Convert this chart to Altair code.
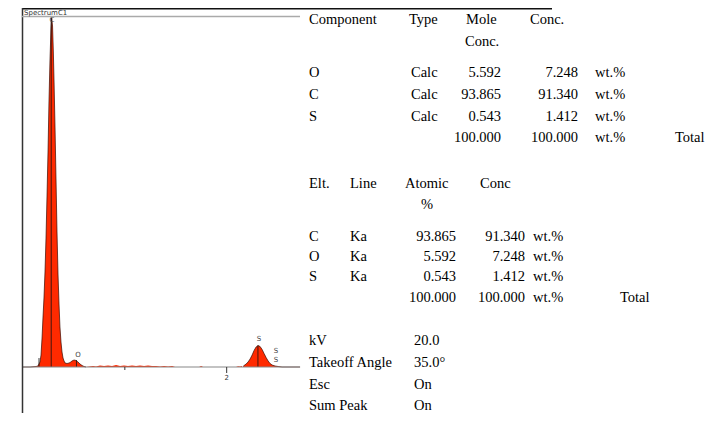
import altair as alt
import pandas as pd

# ---------------- spectrum values (keV, counts) ----------------
co_energy = [0.000, 0.069, 0.128, 0.147, 0.167, 0.177, 0.187, 0.196, 0.206, 0.216, 0.226,
             0.236, 0.246, 0.255, 0.265, 0.275, 0.282, 0.290, 0.298, 0.305, 0.314, 0.324,
             0.334, 0.344, 0.354, 0.363, 0.373, 0.383, 0.393, 0.403, 0.413, 0.432, 0.452,
             0.462, 0.481, 0.501, 0.521, 0.540, 0.560, 0.580, 0.599, 0.619]
co_counts = [0, 0, 5, 10, 50, 120, 290, 490, 690, 950, 1290,
             1720, 2170, 2650, 3070, 3390, 3490, 3410, 3150, 2850, 2420, 1890,
             1350, 920, 620, 400, 250, 150, 90, 60, 40, 35, 40,
             45, 60, 70, 65, 50, 30, 15, 5, 0]
noise_energy = [0.619, 0.688, 0.717, 0.756, 0.796, 0.835, 0.874, 0.914, 0.953, 0.992, 1.031,
                1.071, 1.110, 1.149, 1.189, 1.228, 1.267, 1.306, 1.346, 1.385, 1.424, 1.464,
                1.493, 1.729, 1.749, 1.768, 2.092, 2.112, 2.132, 2.151]
noise_counts = [0, 10, 5, 15, 10, 15, 10, 20, 10, 15, 10,
                15, 10, 15, 10, 15, 10, 10, 5, 10, 5, 10,
                0, 0, 10, 0, 0, 8, 5, 10]
s_energy = [2.161, 2.171, 2.191, 2.210, 2.230, 2.250, 2.269, 2.289, 2.308, 2.328, 2.348,
            2.367, 2.387, 2.407, 2.426, 2.446, 2.475, 2.505, 2.544, 2.721]
s_counts = [5, 15, 30, 50, 80, 120, 165, 200, 215, 205, 175,
            135, 95, 60, 35, 20, 10, 5, 0, 0]

# element line markers
marker_energy = [0.157, 0.277, 0.525, 2.307]
marker_top = [90, 3490, 70, 215]
# peak labels
label_text = ["C", "O", "S", "S", "S"]
label_energy = [0.285, 0.540, 2.318, 2.485, 2.485]
label_counts = [3470, 120, 280, 160, 70]
# axis ticks
tick_energy = [1, 2]
tick_len = [-30, -60]
tick_label = ["", "2"]

# ---------------- table values ----------------
comp_headers = ["Component", "Type", "Mole", "Conc."]
components = ["O", "C", "S"]
comp_type = ["Calc", "Calc", "Calc"]
comp_mole = [5.592, 93.865, 0.543]
comp_conc = [7.248, 91.340, 1.412]
comp_total = [100.000, 100.000]

elt_headers = ["Elt.", "Line", "Atomic", "Conc"]
elements = ["C", "O", "S"]
elt_line = ["Ka", "Ka", "Ka"]
elt_atomic = [93.865, 5.592, 0.543]
elt_conc = [91.340, 7.248, 1.412]
elt_total = [100.000, 100.000]

setting_names = ["kV", "Takeoff Angle", "Esc", "Sum Peak"]
setting_values = ["20.0", "35.0°", "On", "On"]

# ---------------- layout ----------------
W, H = 706, 405
OFF = 8  # page margin
FONT = "Liberation Serif"
FS = 14.5
RED = "#ff2a00"

xs = alt.Scale(domain=[0, 2.72], range=[15, 292], nice=False, zero=False)
ys = alt.Scale(domain=[0, 3500], range=[359, 9], nice=False, zero=False)

X = alt.X("E:Q", scale=xs, axis=None)
Y = alt.Y("counts:Q", scale=ys, axis=None, stack=None)


def part_df(e, c):
    return pd.DataFrame({"E": e, "counts": c, "zero": [0] * len(e)})


def area_layer(df):
    return alt.Chart(df).mark_area(fill=RED, fillOpacity=1, strokeWidth=0).encode(
        x=X, y=Y, y2=alt.Y2("zero:Q"))


def outline_layer(df):
    return alt.Chart(df).mark_line(color="#3a0a00", strokeWidth=0.7).encode(x=X, y=Y)


co_df = part_df(co_energy, co_counts)
noise_df = part_df(noise_energy, noise_counts)
s_df = part_df(s_energy, s_counts)

markers = pd.DataFrame({"E": marker_energy, "top": marker_top, "zero": [0] * 4})
marker_rules = alt.Chart(markers).mark_rule(color="#111", strokeWidth=0.8).encode(
    x=X, y=alt.Y("zero:Q", scale=ys, axis=None), y2="top:Q")

labels = pd.DataFrame({"E": label_energy, "counts": label_counts, "t": label_text})
label_marks = alt.Chart(labels).mark_text(font="DejaVu Sans", fontSize=7, color="#444",
                                          baseline="middle", align="center").encode(
    x=X, y=alt.Y("counts:Q", scale=ys, axis=None), text="t:N")

ticks = pd.DataFrame({"E": tick_energy, "zero": [0, 0], "len": tick_len, "t": tick_label,
                      "lab_y": [-110, -110]})
tick_rules = alt.Chart(ticks).mark_rule(color="#333", strokeWidth=1).encode(
    x=X, y=alt.Y("zero:Q", scale=ys, axis=None), y2="len:Q")
tick_text = alt.Chart(ticks).mark_text(font="DejaVu Sans", fontSize=7, color="#333",
                                       baseline="middle").encode(
    x=X, y=alt.Y("lab_y:Q", scale=ys, axis=None), text="t:N")

base = pd.DataFrame({"E": [-0.01], "E2": [2.72], "zero": [0]})
baseline = alt.Chart(base).mark_rule(color="#888", strokeWidth=1.2).encode(
    x=X, x2="E2:Q", y=alt.Y("zero:Q", scale=ys, axis=None))

# frame (pixel layout)
frame = pd.DataFrame({
    "x": [14, 14.5, 14], "x2": [544, 14.5, 292],
    "y": [0.75, 0, 8.5], "y2": [0.75, H, 8.5],
    "c": ["#111", "#333", "#aaa"],
})
frame_rules = alt.Chart(frame).mark_rule(strokeWidth=1.5).encode(
    x=alt.X("x:Q", scale=None, axis=None), x2="x2:Q",
    y=alt.Y("y:Q", scale=None, axis=None), y2="y2:Q",
    color=alt.Color("c:N", scale=None, legend=None))

title = alt.Chart(pd.DataFrame({"t": ["SpectrumC1"], "x": [16], "y": [4.5]})).mark_text(
    font="DejaVu Sans", fontSize=7, color="#333", align="left", baseline="middle").encode(
    x=alt.X("x:Q", scale=None, axis=None), y=alt.Y("y:Q", scale=None, axis=None), text="t:N")

# table cells (reference pixel positions -> chart positions)
left, right = [], []
for t, x in zip(comp_headers, [309, 409, 466, 530]):
    left.append((t, x, 20))
left.append(("Conc.", 465, 42))
for comp, ty, m, c, y in zip(components, comp_type, comp_mole, comp_conc, [73, 95, 117]):
    left += [(comp, 309, y), (ty, 411, y), ("wt.%", 595, y)]
    right += [(f"{m:.3f}", 501, y), (f"{c:.3f}", 578, y)]
right += [(f"{comp_total[0]:.3f}", 501, 138), (f"{comp_total[1]:.3f}", 578, 138)]
left += [("wt.%", 595, 138), ("Total", 675, 138)]

for t, x in zip(elt_headers, [309, 350, 405, 480]):
    left.append((t, x, 184))
left.append(("%", 421, 205))
for el, ln, a, c, y in zip(elements, elt_line, elt_atomic, elt_conc, [237, 257, 277]):
    left += [(el, 309, y), (ln, 350, y), ("wt.%", 533, y)]
    right += [(f"{a:.3f}", 456, y), (f"{c:.3f}", 525, y)]
right += [(f"{elt_total[0]:.3f}", 456, 298), (f"{elt_total[1]:.3f}", 525, 298)]
left += [("wt.%", 533, 298), ("Total", 620, 298)]

for n, v, y in zip(setting_names, setting_values, [341, 363, 385, 406]):
    left += [(n, 309, y), (v, 414, y)]


def cell_df(cells):
    return pd.DataFrame({"t": [c[0] for c in cells],
                         "x": [c[1] - OFF for c in cells],
                         "y": [c[2] - OFF for c in cells]})


def text_layer(df, align):
    return alt.Chart(df).mark_text(font=FONT, fontSize=FS, color="#000", align=align,
                                   baseline="middle").encode(
        x=alt.X("x:Q", scale=None, axis=None), y=alt.Y("y:Q", scale=None, axis=None), text="t:N")


table_left = text_layer(cell_df(left), "left")
table_right = text_layer(cell_df(right), "right")

chart = alt.layer(
    area_layer(co_df), area_layer(noise_df), area_layer(s_df),
    outline_layer(co_df), outline_layer(s_df),
    marker_rules, label_marks, baseline, tick_rules, tick_text,
    frame_rules, title, table_left, table_right,
).resolve_scale(x="independent", y="independent").properties(
    width=W, height=H, padding=0, autosize=alt.AutoSizeParams(type="none")
).configure_view(stroke=None)

chart.save("out.html", embed_options={"renderer": "svg", "actions": False})
